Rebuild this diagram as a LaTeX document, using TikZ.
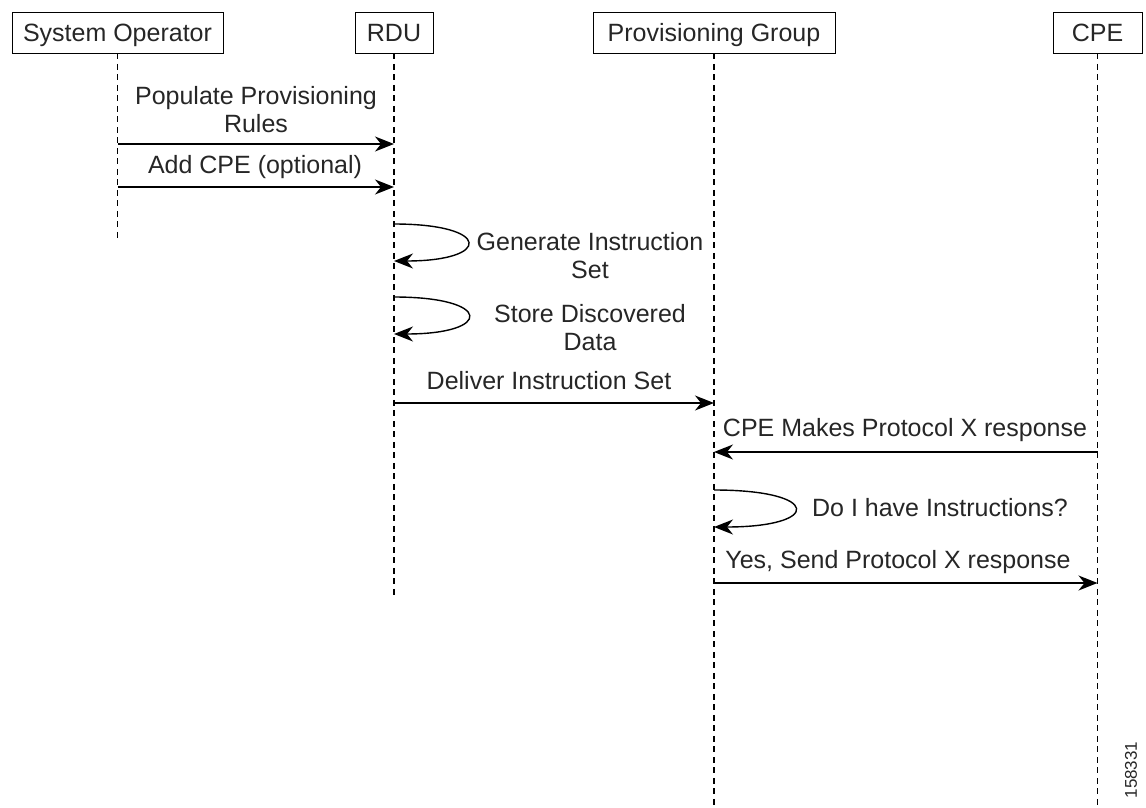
\documentclass[tikz,border=0pt]{standalone}
\usepackage{fontspec}
\setmainfont{Liberation Sans}
\usetikzlibrary{arrows.meta}
\begin{document}
\begin{tikzpicture}[x=1pt,y=-1pt,
  actor/.style={draw, line width=0.9pt, minimum height=41pt, inner sep=0pt, text height=18pt, text depth=0pt, font=\fontsize{25}{28}\selectfont, text=black!85},
  lifeline/.style={line width=1.3pt, dash pattern=on 6pt off 4.5pt},
  msg/.style={line width=1.4pt, -{Stealth[length=19pt,width=15pt,inset=6pt]}},
  lbl/.style={font=\fontsize{25}{28}\selectfont, align=center, text=black!85, inner sep=0pt},
]
\useasboundingbox (0,0) rectangle (1146,808);

\node[actor, minimum width=211pt] (so) at (117.5,32.5) {System Operator};
\node[actor, minimum width=78pt] (rdu) at (394,32.5) {RDU};
\node[actor, minimum width=242pt] (pg) at (714,32.5) {Provisioning Group};
\node[actor, minimum width=89pt] (cpe) at (1097.5,32.5) {CPE};

\coordinate (soEnd) at (117.5,242);
\coordinate (rduEnd) at (394,595);
\coordinate (pgEnd) at (714,805);
\coordinate (cpeEnd) at (1097.5,805);

\draw[lifeline] (so.south) -- (soEnd);
\draw[lifeline] (rdu.south) -- (rduEnd);
\draw[lifeline] (pg.south) -- (pgEnd);
\draw[lifeline] (cpe.south) -- (cpeEnd);

% message points
\coordinate (so1) at (117.5,144);
\coordinate (rdu1) at (394,144);
\coordinate (so2) at (117.5,187);
\coordinate (rdu2) at (394,187);
\coordinate (rduA) at (394,224);
\coordinate (rduB) at (394,261);
\coordinate (rduC) at (394,297);
\coordinate (rduD) at (394,334);
\coordinate (rdu3) at (394,403);
\coordinate (pg3) at (714,403);
\coordinate (cpe4) at (1097.5,452);
\coordinate (pg4) at (714,452);
\coordinate (pgA) at (714,490);
\coordinate (pgB) at (714,527);
\coordinate (pg5) at (714,583);
\coordinate (cpe5) at (1097.5,583);

\draw[msg] (so1) -- (rdu1);
\node[lbl] (m1) at (256,110) {Populate Provisioning\\Rules};
\draw[msg] (so2) -- (rdu2);
\node[lbl] (m2) at (255,167) {Add CPE (optional)};

\draw[msg] (rduA) .. controls (492,224) and (492,261) .. (rduB);
\node[lbl] (m3) at (590,256) {Generate Instruction\\Set};
\draw[msg] (rduC) .. controls (493,297) and (493,334) .. (rduD);
\node[lbl] (m4) at (590,328) {Store Discovered\\Data};

\draw[msg] (rdu3) -- (pg3);
\node[lbl] (m5) at (549,381) {Deliver Instruction Set};

\draw[msg] (cpe4) -- (pg4);
\node[lbl] (m6) at (905,430) {CPE Makes Protocol X response};

\draw[msg] (pgA) .. controls (822,490) and (822,527) .. (pgB);
\node[lbl] (m7) at (940,508) {Do I have Instructions?};

\draw[msg] (pg5) -- (cpe5);
\node[lbl] (m8) at (898,562) {Yes, Send Protocol X response};

\node[font=\fontsize{17}{20}\selectfont, rotate=90, inner sep=0pt, text=black!85] (fig) at (1131,770) {158331};
\end{tikzpicture}
\end{document}
